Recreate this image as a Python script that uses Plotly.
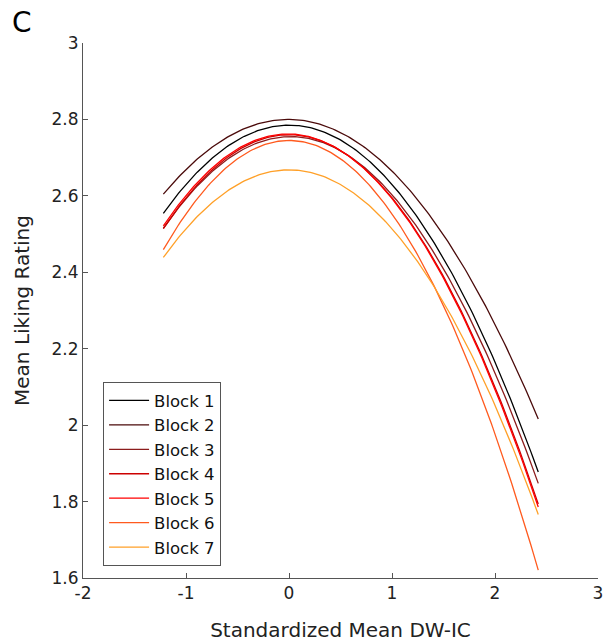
import numpy as np
import plotly.graph_objects as go

# Quadratic fits: y = peak + lin*x + quad*x^2
blocks = ["Block 1", "Block 2", "Block 3", "Block 4", "Block 5", "Block 6", "Block 7"]
peak = [2.785, 2.800, 2.755, 2.760, 2.762, 2.745, 2.668]
lin = [0.000, -0.002, 0.005, 0.000, -0.004, 0.000, 0.000]
quad = [-0.155, -0.133, -0.157, -0.165, -0.165, -0.192, -0.154]
x_range = [-1.22, 2.42]
colors = ["#000000", "#4a0a0a", "#8c1c1c", "#cc0000", "#ff0000", "#ff5a1e", "#ffa028"]

x_ticks = [-2, -1, 0, 1, 2, 3]
x_tick_text = ["-2", "-1", "0", "1", "2", "3"]
y_ticks = [1.6, 1.8, 2.0, 2.2, 2.4, 2.6, 2.8, 3.0]
y_tick_text = ["1.6", "1.8", "2", "2.2", "2.4", "2.6", "2.8", "3"]

xs = np.linspace(x_range[0], x_range[1], 200)
fig = go.Figure()
for name, p, b, c, col in zip(blocks, peak, lin, quad, colors):
    fig.add_trace(go.Scatter(x=xs, y=p + b * xs + c * xs ** 2, mode="lines", name=name,
                             line=dict(color=col, width=1.3)))

font = "DejaVu Sans, Verdana, sans-serif"
axis_common = dict(showline=True, linecolor="#555555", linewidth=1, ticks="inside",
                   ticklen=5, tickcolor="#555555", showgrid=False, zeroline=False,
                   automargin=False,
                   tickfont=dict(family=font, size=17, color="#222222"))
fig.update_layout(
    width=604, height=644,
    margin=dict(l=83, r=6, t=43, b=66),
    plot_bgcolor="white", paper_bgcolor="white",
    font=dict(family=font, color="#222222"),
    xaxis=dict(range=[-2, 3], tickvals=x_ticks, ticktext=x_tick_text, **axis_common,
               title=dict(text="Standardized Mean DW-IC", font=dict(family=font, size=20), standoff=20)),
    yaxis=dict(range=[1.6, 3], tickvals=y_ticks, ticktext=y_tick_text, **axis_common,
               title=dict(text="Mean Liking Rating", font=dict(family=font, size=20), standoff=16)),
    legend=dict(x=0.039, y=0.366, xanchor="left", yanchor="top", bgcolor="white",
                bordercolor="#555555", borderwidth=1, font=dict(family=font, size=16.5, color="#111111"),
                tracegroupgap=0, itemwidth=40),
    showlegend=True,
)
fig.add_annotation(text="C", xref="paper", yref="paper", x=-0.142, y=1.039, xanchor="left",
                   yanchor="middle", showarrow=False, font=dict(family=font, size=28, color="#000000"))
fig.write_html("out.html", config={"displayModeBar": False},
               post_script="document.body.style.margin='0';document.body.style.overflow='hidden';")
